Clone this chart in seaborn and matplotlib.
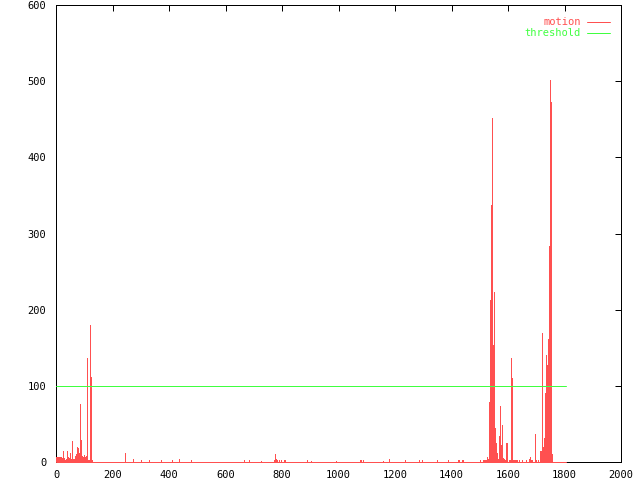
import matplotlib
matplotlib.use('Agg')
import matplotlib.pyplot as plt
import numpy as np
import seaborn as sns
from matplotlib.lines import Line2D

# motion values per frame (frames not listed are 0)
spike_frames = [0, 2, 4, 6, 8, 10, 12, 14, 16, 18, 20, 22, 24, 26, 28, 30, 32, 34, 36, 38,
                40, 42, 44, 46, 48, 50, 52, 55, 57, 59, 61, 63, 65, 67, 69, 71, 73, 75, 77, 79,
                82, 84, 86, 88, 90, 92, 94, 96, 98, 100, 102, 104, 106, 108, 110, 112, 114, 116,
                119, 121, 124, 126,
                243, 274, 301, 330, 373, 412, 437, 478, 667, 684, 727, 772, 776, 779, 783, 789,
                798, 806, 810, 890, 904, 991, 1076, 1081, 1087, 1159, 1180, 1237, 1286, 1297,
                1350, 1389, 1423, 1428, 1436, 1440, 1501, 1510,
                1516, 1519, 1522, 1525, 1529, 1533, 1536, 1540, 1543, 1547, 1550, 1554, 1557,
                1561, 1565, 1568, 1570, 1573, 1575, 1577, 1580, 1583, 1586, 1590, 1594, 1596,
                1598, 1602, 1606, 1611, 1614, 1617, 1620, 1624, 1628, 1631, 1639, 1650, 1665,
                1675, 1677, 1680, 1685, 1697, 1700, 1705, 1714, 1717, 1720, 1723, 1725, 1728,
                1731, 1734, 1737, 1739, 1742, 1744, 1747, 1751, 1754, 1757]
spike_values = [6, 7, 6, 7, 6, 5, 6, 6, 5, 6, 5, 4, 5, 15, 5, 4, 3, 4, 3, 5,
                15, 6, 4, 5, 10, 12, 4, 27, 6, 4, 3, 3, 4, 3, 8, 10, 13, 20, 15, 18,
                12, 25, 76, 29, 14, 8, 5, 6, 4, 9, 6, 5, 8, 6, 136, 3, 2, 2,
                4, 180, 112, 3,
                12, 4, 2, 3, 2, 3, 4, 3, 3, 3, 1, 3, 11, 4, 3, 3,
                2, 3, 3, 3, 1, 1, 2, 3, 3, 1, 4, 3, 3, 2,
                3, 2, 3, 2, 3, 2, 2, 3,
                3, 3, 3, 7, 4, 79, 213, 337, 452, 154, 223, 44, 25,
                12, 4, 34, 10, 74, 22, 22, 49, 5, 4, 2, 25, 25,
                23, 3, 2, 137, 110, 3, 2, 3, 3, 2, 3, 2, 3,
                4, 6, 2, 2, 37, 3, 2, 15, 15, 170, 20, 20, 32,
                91, 140, 128, 128, 162, 284, 502, 472, 11, 11]
n_frames = 1805
threshold_value = 100

x_ticks = list(range(0, 2001, 200))
y_ticks = list(range(0, 601, 100))

frames = np.arange(n_frames)
motion = np.zeros(n_frames)
motion[spike_frames] = spike_values
threshold = np.full(n_frames, threshold_value)

red = '#ff5050'
green = '#40ff40'
px = 0.72  # one pixel at 100 dpi

sns.set_style('white')
plt.rcParams['font.family'] = ['DejaVu Sans Mono']

fig = plt.figure(figsize=(6.4, 4.8), dpi=100)
ax = fig.add_axes([56 / 640, 18 / 480, 565 / 640, 457 / 480])

# impulses
ax.vlines(frames, 0, motion, color=red, linewidth=px, antialiased=False, zorder=3)
ax.plot(frames[[0, -1]], motion[[1000, 1000]], color=red, linewidth=px,
        snap=True, zorder=4, clip_on=False)
# threshold is constant, so its two end points describe the whole line
sns.lineplot(x=frames[[0, -1]], y=threshold[[0, -1]], color=green, linewidth=px,
             snap=True, ax=ax, zorder=3)

ax.set_xlim(0, 2000)
ax.set_ylim(0, 600)
ax.set_xticks(x_ticks)
ax.set_yticks(y_ticks)
ax.tick_params(direction='in', length=4.5, width=px, top=True, right=True,
               labelsize=7.5, colors='black')
ax.tick_params(axis='x', pad=6)
ax.tick_params(axis='y', pad=7)
for s in ax.spines.values():
    s.set_color('black')
    s.set_linewidth(px)
ax.set_xlabel('')
ax.set_ylabel('')

handles = [Line2D([], [], color=red, linewidth=px, snap=True),
           Line2D([], [], color=green, linewidth=px, snap=True)]
ax.legend(handles, ['motion', 'threshold'], loc='upper right', frameon=False,
          markerfirst=False, labelcolor='linecolor', fontsize=7.5,
          handlelength=2.2, handletextpad=0.6, labelspacing=0.1,
          borderaxespad=0, bbox_to_anchor=(1 - 7 / 565, 1 - 8 / 457))

fig.savefig('out.png', dpi=100)
